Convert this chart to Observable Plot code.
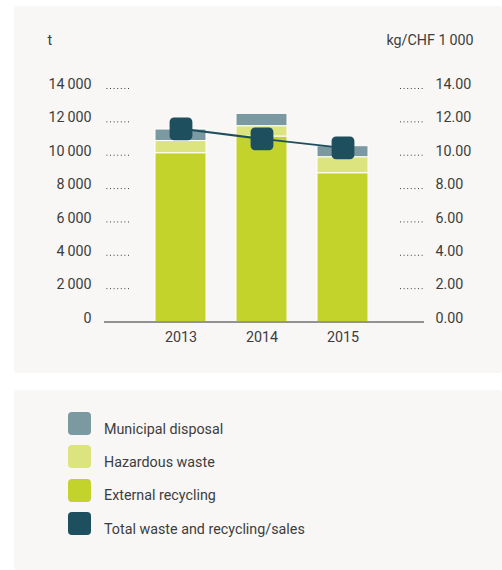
<!DOCTYPE html>
<html>
<head>
<meta charset="utf-8">
<script src="https://cdn.jsdelivr.net/npm/d3@7"></script>
<script src="https://cdn.jsdelivr.net/npm/@observablehq/plot@0.6"></script>
<style>
  body { margin: 0; background: #ffffff; }
  #wrap { position: relative; width: 502px; height: 570px; overflow: hidden; font-family: Roboto, sans-serif; color: #3d3d3d; }
  .panel { position: absolute; background: #f8f7f5; border-radius: 3px; }
  #chart { position: absolute; left: 0; top: 0; }
  .sw { position: absolute; width: 23px; height: 23px; border-radius: 4px; }
  .lt { position: absolute; font-size: 14.3px; line-height: 14px; white-space: nowrap; }
</style>
</head>
<body>
<div id="wrap">
  <div class="panel" style="left:14px;top:6px;width:488px;height:367px"></div>
  <div class="panel" style="left:14px;top:390px;width:488px;height:180px"></div>
  <div id="chart"></div>
  <div id="legend"></div>
</div>
<script>
const years = ["2013", "2014", "2015"];
const externalRecycling = [10120, 11120, 8920];
const hazardousWaste = [730, 620, 960];
const municipalDisposal = [690, 740, 660];
const totalPerSales = [11.58, 10.98, 10.44];

const leftTicks = [0, 2000, 4000, 6000, 8000, 10000, 12000, 14000];
const leftUnit = "t";
const rightUnit = "kg/CHF 1\u2009000";

const seriesNames = ["Municipal disposal", "Hazardous waste", "External recycling", "Total waste and recycling/sales"];
const seriesColors = ["#7b99a0", "#dce480", "#c3d32b", "#1e4f5e"];

const stackOrder = ["External recycling", "Hazardous waste", "Municipal disposal"];
const stackValues = {"External recycling": externalRecycling, "Hazardous waste": hazardousWaste, "Municipal disposal": municipalDisposal};
const barData = [];
years.forEach((y, i) => stackOrder.forEach(s => barData.push({year: y, series: s, value: stackValues[s][i]})));
const lineData = years.map((y, i) => ({year: y, ratio: totalPerSales[i]}));

const fmt = d3.formatLocale({decimal: ".", thousands: "\u2009", grouping: [3], currency: ["", ""]}).format(",");
const rightFmt = d3.format(".2f");

const roundedSquare = {
  draw(ctx, size) {
    const h = Math.sqrt(size / Math.PI), c = 4.5;
    ctx.moveTo(-h + c, -h);
    ctx.arcTo(h, -h, h, h, c);
    ctx.arcTo(h, h, -h, h, c);
    ctx.arcTo(-h, h, -h, -h, c);
    ctx.arcTo(-h, -h, h, -h, c);
    ctx.closePath();
  }
};

const colorOf = Object.fromEntries(seriesNames.map((n, i) => [n, seriesColors[i]]));
const dottedTicks = leftTicks.filter(d => d !== 0);

const chart = Plot.plot({
  width: 502,
  height: 372,
  marginLeft: 129,
  marginRight: 103,
  marginTop: 0,
  marginBottom: 50.5,
  style: {background: "transparent", fontFamily: "Roboto, sans-serif", fontSize: "14.3px", color: "#3d3d3d", overflow: "visible"},
  x: {domain: years, range: [125, 398], padding: 0.37, axis: null},
  y: {domain: [0, 14000], range: [321.5, 88], axis: null},
  marks: [
    Plot.barY(barData, {x: "year", y: "value", fill: d => colorOf[d.series], stroke: "#ffffff", strokeWidth: 1, order: stackOrder}),
    Plot.axisY(dottedTicks, {anchor: "left", tickSize: 25, fill: "none", label: null, stroke: "#3d3d3d", strokeDasharray: "1 2.6"}),
    Plot.axisY(dottedTicks, {anchor: "right", tickSize: 25, fill: "none", label: null, stroke: "#3d3d3d", strokeDasharray: "1 2.6"}),
    Plot.ruleY([0], {stroke: "#707070", strokeWidth: 1.5, insetLeft: -25, insetRight: -25}),
    Plot.axisY(leftTicks, {anchor: "left", tickSize: 0, tickPadding: 38, dy: -4, label: null, tickFormat: fmt}),
    Plot.axisY(leftTicks, {anchor: "right", tickSize: 0, tickPadding: 36, dy: -4, label: null, tickFormat: d => rightFmt(d / 1000)}),
    Plot.axisX({anchor: "bottom", tickSize: 0, tickPadding: 10, label: null}),
    Plot.line(lineData, {x: "year", y: d => d.ratio * 1000, stroke: colorOf["Total waste and recycling/sales"], strokeWidth: 2}),
    Plot.dot(lineData, {x: "year", y: d => d.ratio * 1000, symbol: roundedSquare, r: 11.4, fill: colorOf["Total waste and recycling/sales"], stroke: "none"}),
    Plot.text([leftUnit], {frameAnchor: "top-left", dx: -82, dy: 44, text: d => d, textAnchor: "start", lineAnchor: "bottom"}),
    Plot.text([rightUnit], {frameAnchor: "top-right", dx: 74, dy: 44, text: d => d, textAnchor: "end", lineAnchor: "bottom"})
  ]
});
document.getElementById("chart").appendChild(chart);

const legend = document.getElementById("legend");
seriesNames.forEach((name, i) => {
  const sw = document.createElement("div");
  sw.className = "sw";
  sw.style.left = "68px";
  sw.style.top = (411.7 + i * 33.4) + "px";
  sw.style.background = seriesColors[i];
  legend.appendChild(sw);
  const t = document.createElement("div");
  t.className = "lt";
  t.style.left = "104px";
  t.style.top = (421.5 + i * 33.4) + "px";
  t.textContent = name;
  legend.appendChild(t);
});
</script>
</body>
</html>
